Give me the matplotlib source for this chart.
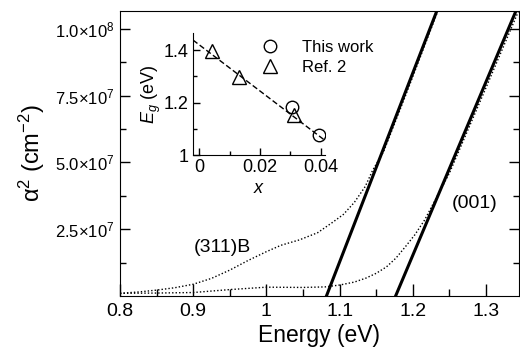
import matplotlib
matplotlib.use('Agg')
import matplotlib.pyplot as plt

plt.rcParams['font.family'] = ['Liberation Sans', 'DejaVu Sans']
plt.rcParams['mathtext.fontset'] = 'custom'
plt.rcParams['mathtext.rm'] = 'Liberation Sans'
plt.rcParams['mathtext.it'] = 'Liberation Sans:italic'

# main panel data (alpha^2 in units of 1e7 cm^-2)
E_311 = [0.80, 0.825, 0.85, 0.875, 0.90, 0.925, 0.95, 0.975, 1.00, 1.02, 1.045,
         1.07, 1.09, 1.105, 1.12, 1.135, 1.145, 1.16, 1.19, 1.236]
a2_311 = [0.10, 0.15, 0.22, 0.31, 0.44, 0.66, 0.97, 1.33, 1.66, 1.90, 2.10,
          2.37, 2.75, 3.05, 3.50, 4.10, 4.70, 5.40, 7.50, 10.8]
E_001 = [0.80, 0.85, 0.90, 0.95, 1.00, 1.05, 1.08, 1.10, 1.12, 1.136, 1.15,
         1.164, 1.177, 1.19, 1.203, 1.216, 1.25, 1.30, 1.348]
a2_001 = [0.10, 0.11, 0.13, 0.24, 0.33, 0.32, 0.34, 0.41, 0.52, 0.67, 0.85,
          1.09, 1.42, 1.85, 2.30, 2.84, 4.60, 7.80, 10.9]
fit_311_E = [1.082, 1.236]
fit_311_a2 = [0.0, 10.9]
fit_001_E = [1.1765, 1.345]
fit_001_a2 = [0.0, 10.94]

x_ticks = [0.8, 0.9, 1.0, 1.1, 1.2, 1.3]
x_labels = ['0.8', '0.9', '1', '1.1', '1.2', '1.3']
y_ticks = [2.5, 5.0, 7.5, 10.0]
y_labels = [r'2.5$\times$10$^{7}$', r'5.0$\times$10$^{7}$',
            r'7.5$\times$10$^{7}$', r'1.0$\times$10$^{8}$']

# inset data
x_this = [0.0304, 0.0394]
Eg_this = [1.183, 1.078]
x_ref = [0.0041, 0.0131, 0.0312]
Eg_ref = [1.397, 1.298, 1.151]
fit_x = [-0.002, 0.041]
fit_Eg = [1.438, 1.059]

fig = plt.figure(figsize=(5.2, 3.53), dpi=100)
ax = fig.add_axes([0.2308, 0.1615, 0.7672, 0.8073])

ax.plot(E_311, a2_311, color='black', lw=1.0, ls=(0, (1, 1.5)))
ax.plot(E_001, a2_001, color='black', lw=1.0, ls=(0, (1, 1.5)))
ax.plot(fit_311_E, fit_311_a2, color='black', lw=2.2)
ax.plot(fit_001_E, fit_001_a2, color='black', lw=2.2)

ax.set_xlim(0.8, 1.345)
ax.set_ylim(0, 10.67)
ax.set_xticks(x_ticks, x_labels)
ax.set_xticks([0.85, 0.95, 1.05, 1.15, 1.25], minor=True)
ax.set_yticks(y_ticks, y_labels)
ax.set_yticks([1.25, 3.75, 6.25, 8.75], minor=True)
ax.tick_params(axis='x', which='major', direction='in', length=9, width=1, labelsize=14, pad=5)
ax.tick_params(axis='x', which='minor', direction='in', length=5, width=1)
ax.tick_params(axis='y', which='major', direction='in', length=7, width=1, labelsize=12,
               right=True, pad=4)
ax.tick_params(axis='y', which='minor', direction='in', length=4, width=1, right=True)
ax.set_xlabel('Energy (eV)', fontsize=16.5, labelpad=3)
ax.set_ylabel(r'α$^2$ (cm$^{-2}$)', fontsize=17, labelpad=6)

ax.text(0.94, 1.82, '(311)B', fontsize=14, ha='center', va='center')
ax.text(1.284, 3.48, '(001)', fontsize=14, ha='center', va='center')

# inset
ax_in = fig.add_axes([0.3712, 0.5609, 0.2538, 0.3456])
ax_in.plot(fit_x, fit_Eg, color='black', lw=1.0, dashes=(4, 2))
ax_in.plot(x_this, Eg_this, 'o', ms=9, mfc='none', mec='black', mew=1.0, label='This work')
ax_in.plot(x_ref, Eg_ref, '^', ms=9.5, mfc='none', mec='black', mew=1.0, label='Ref. 2')
ax_in.set_xlim(-0.002, 0.0414)
ax_in.set_ylim(1.0, 1.465)
ax_in.set_xticks([0, 0.02, 0.04], ['0', '0.02', '0.04'])
ax_in.set_xticks([0.01, 0.03], minor=True)
ax_in.set_yticks([1.0, 1.2, 1.4], ['1', '1.2', '1.4'])
ax_in.set_yticks([1.1, 1.3], minor=True)
ax_in.tick_params(which='major', direction='in', length=5, width=1, labelsize=13, pad=3)
ax_in.tick_params(which='minor', direction='in', length=3, width=1)
ax_in.spines['top'].set_visible(False)
ax_in.spines['right'].set_visible(False)
ax_in.patch.set_alpha(0)
ax_in.set_xlabel('$x$', fontsize=13, labelpad=3)
ax_in.set_ylabel('$E_g$ (eV)', fontsize=13, labelpad=1)
ax_in.legend(loc='upper left', bbox_to_anchor=(262 / 520, 1 - 40 / 353),
             bbox_transform=fig.transFigure, frameon=False, fontsize=12,
             handlelength=1, handletextpad=1.4, borderpad=0, labelspacing=0.3,
             borderaxespad=0)

fig.savefig('out.png', dpi=100)
